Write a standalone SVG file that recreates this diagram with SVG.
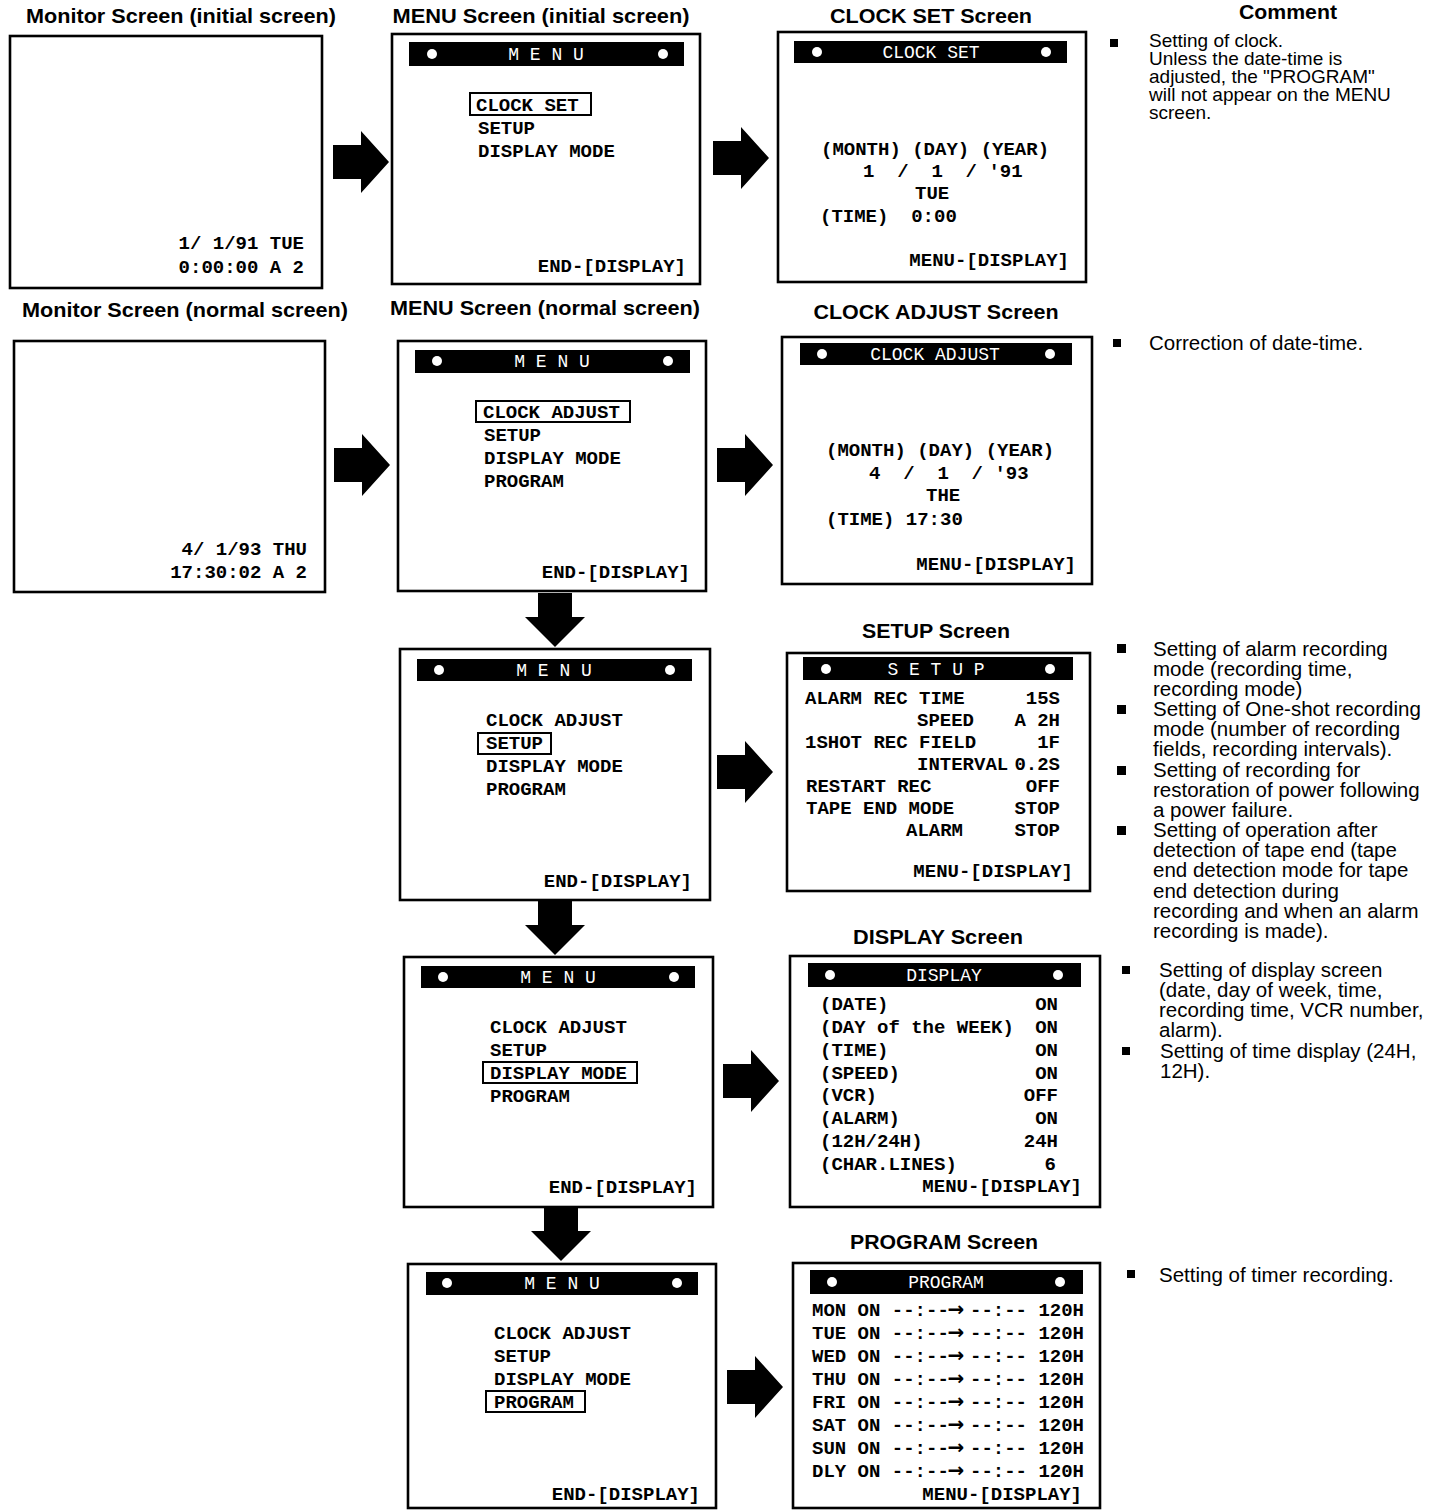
<svg xmlns="http://www.w3.org/2000/svg" xmlns:xlink="http://www.w3.org/1999/xlink" width="1451" height="1510" viewBox="0 0 1451 1510">
<style>
.hd{font-family:"Liberation Sans",Arial,sans-serif;font-weight:bold;font-size:21px;fill:#000;text-anchor:middle}
.cm{font-family:"Liberation Sans",Arial,sans-serif;font-size:20.5px;fill:#000}
.cs{font-size:19px}
.scr{fill:#fff;stroke:#000;stroke-width:2.6}
.bar{fill:#000}
.dot{fill:#fff}
.bt{font-family:"Liberation Mono","DejaVu Sans Mono",monospace;font-size:18px;fill:#fff;text-anchor:middle}
.mt{font-family:"Liberation Mono","DejaVu Sans Mono",monospace;font-weight:bold;font-size:19px;fill:#000;white-space:pre}
.ar{font-family:"DejaVu Sans",sans-serif;font-weight:bold;font-size:20px;fill:#000;text-anchor:middle}
.r{text-anchor:end}
.sel{fill:none;stroke:#000;stroke-width:2}
.bul{fill:#000}
</style>
<defs>
<path id="ra" d="M0,-17 H28 V-31 L56,0 L28,31 V17 H0 Z" fill="#000"/>
<path id="da" d="M-17,0 H17 V24 H30 L0,54 L-30,24 H-17 Z" fill="#000"/>
</defs>

<g id="headers">
<text class="hd" x="181" y="23" textLength="310" lengthAdjust="spacingAndGlyphs">Monitor Screen (initial screen)</text>
<text class="hd" x="541" y="23" textLength="297" lengthAdjust="spacingAndGlyphs">MENU Screen (initial screen)</text>
<text class="hd" x="931" y="23" textLength="202" lengthAdjust="spacingAndGlyphs">CLOCK SET Screen</text>
<text class="hd" x="1288" y="19" textLength="98" lengthAdjust="spacingAndGlyphs">Comment</text>
<text class="hd" x="185" y="317" textLength="326" lengthAdjust="spacingAndGlyphs">Monitor Screen (normal screen)</text>
<text class="hd" x="545" y="315" textLength="310" lengthAdjust="spacingAndGlyphs">MENU Screen (normal screen)</text>
<text class="hd" x="936" y="319" textLength="245" lengthAdjust="spacingAndGlyphs">CLOCK ADJUST Screen</text>
<text class="hd" x="936" y="638" textLength="148" lengthAdjust="spacingAndGlyphs">SETUP Screen</text>
<text class="hd" x="938" y="944" textLength="170" lengthAdjust="spacingAndGlyphs">DISPLAY Screen</text>
<text class="hd" x="944" y="1249" textLength="188" lengthAdjust="spacingAndGlyphs">PROGRAM Screen</text>
</g>

<g id="monitor-initial">
<rect class="scr" x="10" y="36" width="312" height="252"/>
<text class="mt r" x="304" y="249">1/ 1/91 TUE</text>
<text class="mt r" x="304" y="273">0:00:00 A 2</text>
</g>

<g id="menu-initial">
<rect class="scr" x="392" y="34" width="308" height="250"/>
<rect class="bar" x="409" y="42" width="275" height="24"/>
<circle class="dot" cx="432" cy="54" r="5"/><circle class="dot" cx="663" cy="54" r="5"/>
<text class="bt" x="546" y="60">M E N U</text>
<rect class="sel" x="470" y="93" width="121" height="22"/>
<text class="mt" x="476" y="111">CLOCK SET</text>
<text class="mt" x="478" y="134">SETUP</text>
<text class="mt" x="478" y="157">DISPLAY MODE</text>
<text class="mt r" x="686" y="272">END-[DISPLAY]</text>
</g>

<g id="clock-set">
<rect class="scr" x="778" y="32" width="308" height="250"/>
<rect class="bar" x="794" y="41" width="273" height="22"/>
<circle class="dot" cx="817" cy="52" r="5"/><circle class="dot" cx="1046" cy="52" r="5"/>
<text class="bt" x="931" y="58">CLOCK SET</text>
<text class="mt" x="821" y="155">(MONTH) (DAY) (YEAR)</text>
<text class="mt" x="863" y="177" xml:space="preserve">1  /  1  / '91</text>
<text class="mt" x="915" y="199">TUE</text>
<text class="mt" x="820" y="222" xml:space="preserve">(TIME)  0:00</text>
<text class="mt r" x="1069" y="266">MENU-[DISPLAY]</text>
</g>

<g id="monitor-normal">
<rect class="scr" x="14" y="341" width="311" height="251"/>
<text class="mt r" x="307" y="555">4/ 1/93 THU</text>
<text class="mt r" x="307" y="578">17:30:02 A 2</text>
</g>

<g id="menu-normal">
<rect class="scr" x="398" y="341" width="308" height="250"/>
<rect class="bar" x="415" y="350" width="275" height="23"/>
<circle class="dot" cx="437" cy="361" r="5"/><circle class="dot" cx="668" cy="361" r="5"/>
<text class="bt" x="552" y="367">M E N U</text>
<rect class="sel" x="476" y="401" width="154" height="21"/>
<text class="mt" x="483" y="418">CLOCK ADJUST</text>
<text class="mt" x="484" y="441">SETUP</text>
<text class="mt" x="484" y="464">DISPLAY MODE</text>
<text class="mt" x="484" y="487">PROGRAM</text>
<text class="mt r" x="690" y="578">END-[DISPLAY]</text>
</g>

<g id="clock-adjust">
<rect class="scr" x="782" y="337" width="310" height="247"/>
<rect class="bar" x="800" y="343" width="272" height="22"/>
<circle class="dot" cx="822" cy="354" r="5"/><circle class="dot" cx="1050" cy="354" r="5"/>
<text class="bt" x="935" y="360">CLOCK ADJUST</text>
<text class="mt" x="826" y="456">(MONTH) (DAY) (YEAR)</text>
<text class="mt" x="869" y="479" xml:space="preserve">4  /  1  / '93</text>
<text class="mt" x="926" y="501">THE</text>
<text class="mt" x="826" y="525">(TIME) 17:30</text>
<text class="mt r" x="1076" y="570">MENU-[DISPLAY]</text>
</g>

<g id="menu-setup">
<rect class="scr" x="400" y="649" width="310" height="251"/>
<rect class="bar" x="417" y="659" width="275" height="22"/>
<circle class="dot" cx="439" cy="670" r="5"/><circle class="dot" cx="670" cy="670" r="5"/>
<text class="bt" x="554" y="676">M E N U</text>
<text class="mt" x="486" y="726">CLOCK ADJUST</text>
<rect class="sel" x="478" y="733" width="73" height="21"/>
<text class="mt" x="486" y="749">SETUP</text>
<text class="mt" x="486" y="772">DISPLAY MODE</text>
<text class="mt" x="486" y="795">PROGRAM</text>
<text class="mt r" x="692" y="887">END-[DISPLAY]</text>
</g>

<g id="setup">
<rect class="scr" x="787" y="653" width="303" height="238"/>
<rect class="bar" x="803" y="657" width="270" height="23"/>
<circle class="dot" cx="826" cy="669" r="5"/><circle class="dot" cx="1050" cy="669" r="5"/>
<text class="bt" x="936" y="675">S E T U P</text>
<text class="mt" x="805" y="704">ALARM REC TIME</text><text class="mt r" x="1060" y="704">15S</text>
<text class="mt" x="917" y="726">SPEED</text><text class="mt r" x="1060" y="726" xml:space="preserve">A 2H</text>
<text class="mt" x="805" y="748">1SHOT REC FIELD</text><text class="mt r" x="1060" y="748">1F</text>
<text class="mt" x="917" y="770">INTERVAL</text><text class="mt r" x="1060" y="770">0.2S</text>
<text class="mt" x="806" y="792">RESTART REC</text><text class="mt r" x="1060" y="792">OFF</text>
<text class="mt" x="806" y="814">TAPE END MODE</text><text class="mt r" x="1060" y="814">STOP</text>
<text class="mt" x="906" y="836">ALARM</text><text class="mt r" x="1060" y="836">STOP</text>
<text class="mt r" x="1073" y="877">MENU-[DISPLAY]</text>
</g>

<g id="menu-display">
<rect class="scr" x="404" y="957" width="309" height="250"/>
<rect class="bar" x="421" y="966" width="274" height="22"/>
<circle class="dot" cx="443" cy="977" r="5"/><circle class="dot" cx="674" cy="977" r="5"/>
<text class="bt" x="558" y="983">M E N U</text>
<text class="mt" x="490" y="1033">CLOCK ADJUST</text>
<text class="mt" x="490" y="1056">SETUP</text>
<rect class="sel" x="483" y="1062" width="154" height="21"/>
<text class="mt" x="490" y="1079">DISPLAY MODE</text>
<text class="mt" x="490" y="1102">PROGRAM</text>
<text class="mt r" x="697" y="1193">END-[DISPLAY]</text>
</g>

<g id="display">
<rect class="scr" x="790" y="956" width="310" height="251"/>
<rect class="bar" x="808" y="963" width="273" height="24"/>
<circle class="dot" cx="830" cy="975" r="5"/><circle class="dot" cx="1058" cy="975" r="5"/>
<text class="bt" x="944" y="981">DISPLAY</text>
<text class="mt" x="820" y="1010">(DATE)</text><text class="mt r" x="1058" y="1010">ON</text>
<text class="mt" x="820" y="1033">(DAY of the WEEK)</text><text class="mt r" x="1058" y="1033">ON</text>
<text class="mt" x="820" y="1056">(TIME)</text><text class="mt r" x="1058" y="1056">ON</text>
<text class="mt" x="820" y="1079">(SPEED)</text><text class="mt r" x="1058" y="1079">ON</text>
<text class="mt" x="820" y="1101">(VCR)</text><text class="mt r" x="1058" y="1101">OFF</text>
<text class="mt" x="820" y="1124">(ALARM)</text><text class="mt r" x="1058" y="1124">ON</text>
<text class="mt" x="820" y="1147">(12H/24H)</text><text class="mt r" x="1058" y="1147">24H</text>
<text class="mt" x="820" y="1170">(CHAR.LINES)</text><text class="mt r" x="1056" y="1170">6</text>
<text class="mt r" x="1082" y="1192">MENU-[DISPLAY]</text>
</g>

<g id="menu-program">
<rect class="scr" x="408" y="1264" width="308" height="244"/>
<rect class="bar" x="426" y="1272" width="272" height="23"/>
<circle class="dot" cx="447" cy="1283" r="5"/><circle class="dot" cx="677" cy="1283" r="5"/>
<text class="bt" x="562" y="1289">M E N U</text>
<text class="mt" x="494" y="1339">CLOCK ADJUST</text>
<text class="mt" x="494" y="1362">SETUP</text>
<text class="mt" x="494" y="1385">DISPLAY MODE</text>
<rect class="sel" x="486" y="1391" width="99" height="21"/>
<text class="mt" x="494" y="1408">PROGRAM</text>
<text class="mt r" x="700" y="1500">END-[DISPLAY]</text>
</g>

<g id="program">
<rect class="scr" x="793" y="1263" width="307" height="245"/>
<rect class="bar" x="810" y="1270" width="273" height="24"/>
<circle class="dot" cx="832" cy="1282" r="5"/><circle class="dot" cx="1060" cy="1282" r="5"/>
<text class="bt" x="946" y="1288">PROGRAM</text>
<g>
<text class="mt" x="812" y="1316">MON ON --:--</text><text class="ar" x="956" y="1316">→</text><text class="mt" x="970" y="1316">--:-- 120H</text>
<text class="mt" x="812" y="1339">TUE ON --:--</text><text class="ar" x="956" y="1339">→</text><text class="mt" x="970" y="1339">--:-- 120H</text>
<text class="mt" x="812" y="1362">WED ON --:--</text><text class="ar" x="956" y="1362">→</text><text class="mt" x="970" y="1362">--:-- 120H</text>
<text class="mt" x="812" y="1385">THU ON --:--</text><text class="ar" x="956" y="1385">→</text><text class="mt" x="970" y="1385">--:-- 120H</text>
<text class="mt" x="812" y="1408">FRI ON --:--</text><text class="ar" x="956" y="1408">→</text><text class="mt" x="970" y="1408">--:-- 120H</text>
<text class="mt" x="812" y="1431">SAT ON --:--</text><text class="ar" x="956" y="1431">→</text><text class="mt" x="970" y="1431">--:-- 120H</text>
<text class="mt" x="812" y="1454">SUN ON --:--</text><text class="ar" x="956" y="1454">→</text><text class="mt" x="970" y="1454">--:-- 120H</text>
<text class="mt" x="812" y="1477">DLY ON --:--</text><text class="ar" x="956" y="1477">→</text><text class="mt" x="970" y="1477">--:-- 120H</text>
</g>
<text class="mt r" x="1082" y="1500">MENU-[DISPLAY]</text>
</g>

<g id="connectors">
<use href="#ra" x="333" y="162"/>
<use href="#ra" x="713" y="158"/>
<use href="#ra" x="334" y="465"/>
<use href="#ra" x="717" y="465"/>
<use href="#ra" x="717" y="772"/>
<use href="#ra" x="723" y="1081"/>
<use href="#ra" x="727" y="1387"/>
<use href="#da" x="555" y="593"/>
<use href="#da" x="555" y="901"/>
<use href="#da" x="561" y="1207"/>
</g>

<g id="comments">
<rect class="bul" x="1110" y="39" width="8" height="8"/>
<text class="cm cs" x="1149" y="47">Setting of clock.</text>
<text class="cm cs" x="1149" y="65">Unless the date-time is</text>
<text class="cm cs" x="1149" y="83">adjusted, the "PROGRAM"</text>
<text class="cm cs" x="1149" y="101">will not appear on the MENU</text>
<text class="cm cs" x="1149" y="119">screen.</text>

<rect class="bul" x="1113" y="339" width="8" height="8"/>
<text class="cm" x="1149" y="350">Correction of date-time.</text>

<rect class="bul" x="1117" y="644" width="9" height="9"/>
<rect class="bul" x="1117" y="705" width="9" height="9"/>
<rect class="bul" x="1117" y="766" width="9" height="9"/>
<rect class="bul" x="1117" y="826" width="9" height="9"/>
<text class="cm" x="1153" y="656">Setting of alarm recording</text>
<text class="cm" x="1153" y="676">mode (recording time,</text>
<text class="cm" x="1153" y="696">recording mode)</text>
<text class="cm" x="1153" y="716">Setting of One-shot recording</text>
<text class="cm" x="1153" y="736">mode (number of recording</text>
<text class="cm" x="1153" y="756">fields, recording intervals).</text>
<text class="cm" x="1153" y="777">Setting of recording for</text>
<text class="cm" x="1153" y="797">restoration of power following</text>
<text class="cm" x="1153" y="817">a power failure.</text>
<text class="cm" x="1153" y="837">Setting of operation after</text>
<text class="cm" x="1153" y="857">detection of tape end (tape</text>
<text class="cm" x="1153" y="877">end detection mode for tape</text>
<text class="cm" x="1153" y="898">end detection during</text>
<text class="cm" x="1153" y="918">recording and when an alarm</text>
<text class="cm" x="1153" y="938">recording is made).</text>

<rect class="bul" x="1122" y="966" width="8" height="8"/>
<text class="cm" x="1159" y="977">Setting of display screen</text>
<text class="cm" x="1159" y="997">(date, day of week, time,</text>
<text class="cm" x="1159" y="1017">recording time, VCR number,</text>
<text class="cm" x="1159" y="1037">alarm).</text>
<rect class="bul" x="1122" y="1047" width="8" height="8"/>
<text class="cm" x="1160" y="1058">Setting of time display (24H,</text>
<text class="cm" x="1160" y="1078">12H).</text>

<rect class="bul" x="1127" y="1270" width="8" height="8"/>
<text class="cm" x="1159" y="1282">Setting of timer recording.</text>
</g>
</svg>
